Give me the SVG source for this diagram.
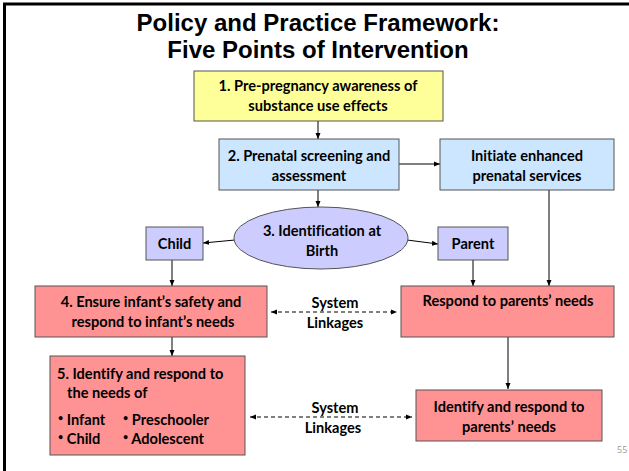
<svg xmlns="http://www.w3.org/2000/svg" width="629" height="471" viewBox="0 0 629 471">
<style>
.title{font-family:"Liberation Sans",Arial,sans-serif;font-weight:bold;font-size:24px;fill:#000;text-anchor:middle}
.t{font-family:Lato,"Liberation Sans",sans-serif;font-weight:bold;font-size:14.6px;fill:#000;text-anchor:middle;font-variant-ligatures:none}
.tl{font-family:Lato,"Liberation Sans",sans-serif;font-weight:bold;font-size:14.6px;fill:#000;font-variant-ligatures:none}
.box{stroke:#555;stroke-width:1}
.y{fill:#FFFF99}
.b{fill:#CCE6FF}
.l{fill:#CCCCFF}
.p{fill:#FF9393}
.c{stroke:#000;stroke-width:1;fill:none}
.d{stroke:#000;stroke-width:1;fill:none;stroke-dasharray:4 3}
</style>
<defs>
<marker id="ah" viewBox="0 0 6 6" refX="6" refY="3" markerWidth="6" markerHeight="6" orient="auto-start-reverse" markerUnits="userSpaceOnUse">
<path d="M0,0.5 L6,3 L0,5.5 Z" fill="#000"/>
</marker>
</defs>
<rect x="0" y="0" width="629" height="471" fill="#fff"/>
<path d="M4.5,471 V4 H629" stroke="#000" stroke-width="3" fill="none"/>
<text class="title" x="318" y="31">Policy and Practice Framework:</text>
<text class="title" x="318" y="58">Five Points of Intervention</text>

<g id="connectors">
<line class="c" x1="318" y1="121" x2="318" y2="139" marker-end="url(#ah)"/>
<line class="c" x1="399" y1="164" x2="440" y2="164" marker-end="url(#ah)"/>
<line class="c" x1="318" y1="190" x2="318" y2="207" marker-end="url(#ah)"/>
<line class="c" x1="235" y1="240" x2="203" y2="243" marker-end="url(#ah)"/>
<line class="c" x1="407" y1="240" x2="438" y2="244" marker-end="url(#ah)"/>
<line class="c" x1="549" y1="190" x2="549" y2="286" marker-end="url(#ah)"/>
<line class="c" x1="172" y1="260" x2="172" y2="286" marker-end="url(#ah)"/>
<line class="c" x1="473" y1="260" x2="473" y2="286" marker-end="url(#ah)"/>
<line class="c" x1="172" y1="337" x2="172" y2="356" marker-end="url(#ah)"/>
<line class="c" x1="508" y1="337" x2="508" y2="389" marker-end="url(#ah)"/>
<line class="d" x1="271" y1="312" x2="397" y2="312" marker-start="url(#ah)" marker-end="url(#ah)"/>
<line class="d" x1="250" y1="417" x2="412" y2="417" marker-start="url(#ah)" marker-end="url(#ah)"/>
<text class="t" x="335" y="308">System</text>
<text class="t" x="335" y="328">Linkages</text>
<text class="t" x="335" y="413">System</text>
<text class="t" x="333" y="433">Linkages</text>
</g>

<g id="n1">
<rect class="box y" x="194" y="71" width="249" height="50"/>
<text class="t" x="318" y="91">1. Pre-pregnancy awareness of</text>
<text class="t" x="318" y="111">substance use effects</text>
</g>
<g id="n2">
<rect class="box b" x="219" y="139" width="180" height="51"/>
<text class="t" x="309" y="161">2. Prenatal screening and</text>
<text class="t" x="309" y="181">assessment</text>
</g>
<g id="n_initiate">
<rect class="box b" x="440" y="139" width="174" height="51"/>
<text class="t" x="527" y="161">Initiate enhanced</text>
<text class="t" x="527" y="181">prenatal services</text>
</g>
<g id="n3">
<ellipse class="box l" cx="321" cy="238" rx="87" ry="31"/>
<text class="t" x="322" y="236">3. Identification at</text>
<text class="t" x="322" y="256">Birth</text>
</g>
<g id="n_child">
<rect class="box l" x="146" y="227" width="57" height="33"/>
<text class="t" x="174.5" y="249">Child</text>
</g>
<g id="n_parent">
<rect class="box l" x="438" y="227" width="70" height="33"/>
<text class="t" x="473" y="249">Parent</text>
</g>
<g id="n4">
<rect class="box p" x="35" y="286" width="232" height="51"/>
<text class="t" x="151" y="307">4. Ensure infant’s safety and</text>
<text class="t" x="153" y="327">respond to infant’s needs</text>
</g>
<g id="n_respond">
<rect class="box p" x="401" y="286" width="213" height="51"/>
<text class="t" x="508" y="306">Respond to parents’ needs</text>
</g>
<g id="n5">
<rect class="box p" x="50" y="356" width="195" height="99"/>
<text class="tl" x="57" y="379">5. Identify and respond to</text>
<text class="tl" x="67" y="398">the needs of</text>
<text class="tl" x="58" y="425"><tspan font-size="9" dy="-4">•</tspan><tspan dy="4"> Infant</tspan></text>
<text class="tl" x="123" y="425"><tspan font-size="9" dy="-4">•</tspan><tspan dy="4"> Preschooler</tspan></text>
<text class="tl" x="58" y="444"><tspan font-size="9" dy="-4">•</tspan><tspan dy="4"> Child</tspan></text>
<text class="tl" x="123" y="444"><tspan font-size="9" dy="-4">•</tspan><tspan dy="4"> Adolescent</tspan></text>
</g>
<g id="n_identify">
<rect class="box p" x="416" y="390" width="186" height="51"/>
<text class="t" x="509" y="412">Identify and respond to</text>
<text class="t" x="509" y="432">parents’ needs</text>
</g>
<text x="617" y="453" font-family="'Open Sans','Liberation Sans',sans-serif" font-size="9" fill="#999">55</text>
</svg>
